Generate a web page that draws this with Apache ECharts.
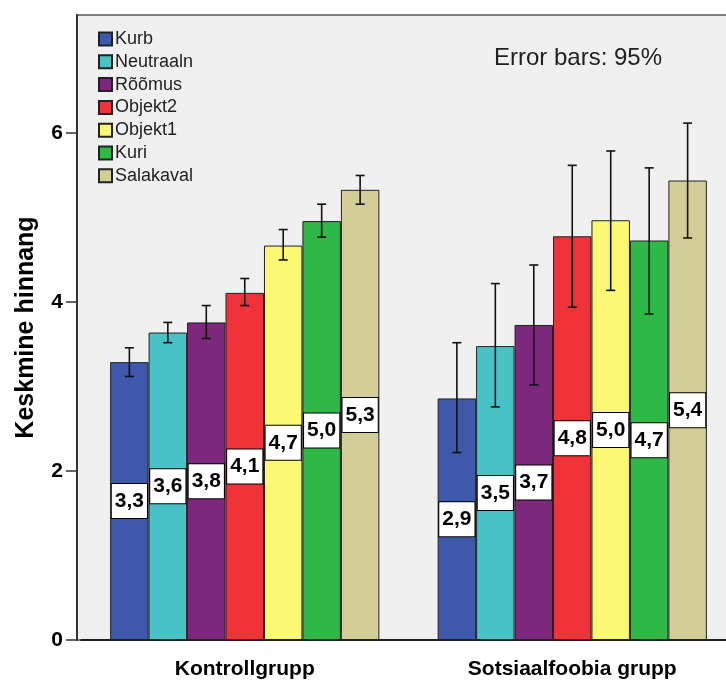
<!DOCTYPE html>
<html>
<head>
<meta charset="utf-8">
<script src="https://cdn.jsdelivr.net/npm/echarts@6/dist/echarts.min.js"></script>
<style>html,body{margin:0;padding:0;background:#fff;}#c{width:726px;height:680px;}</style>
</head>
<body>
<div id="c"></div>
<script>
// ---- data ----
const categories = ['Kontrollgrupp', 'Sotsiaalfoobia grupp'];
const seriesNames = ['Kurb', 'Neutraaln', 'Rõõmus', 'Objekt2', 'Objekt1', 'Kuri', 'Salakaval'];
const kurb      = [3.29, 2.86];
const neutraaln = [3.64, 3.48];
const roomus    = [3.76, 3.73];
const objekt2   = [4.11, 4.78];
const objekt1   = [4.67, 4.97];
const kuri      = [4.96, 4.73];
const salakaval = [5.33, 5.44];
const kurbCI      = [[3.12, 3.46], [2.22, 3.52]];
const neutraalnCI = [[3.52, 3.76], [2.76, 4.22]];
const roomusCI    = [[3.57, 3.96], [3.02, 4.44]];
const objekt2CI   = [[3.96, 4.28], [3.94, 5.62]];
const objekt1CI   = [[4.50, 4.86], [4.14, 5.79]];
const kuriCI      = [[4.77, 5.16], [3.86, 5.59]];
const salakavalCI = [[5.16, 5.50], [4.76, 6.12]];
const yTicks = [0, 2, 4, 6];
const noteText = 'Error bars: 95%';

// ---- build ----
const values = [kurb, neutraaln, roomus, objekt2, objekt1, kuri, salakaval];
const cis = [kurbCI, neutraalnCI, roomusCI, objekt2CI, objekt1CI, kuriCI, salakavalCI];
const colors = ['#3E58AC', '#48C2C5', '#7C287D', '#EF3338', '#FBF873', '#2EB848', '#D3CE97'];
const FONT = '"Liberation Sans", Arial, sans-serif';
const GAP = 0.178;
const N = seriesNames.length;

const barSeries = seriesNames.map((name, i) => ({
  name: name,
  type: 'bar',
  data: values[i],
  barGap: '0%',
  barCategoryGap: (GAP * 100) + '%',
  itemStyle: { color: colors[i], borderColor: '#222', borderWidth: 1 },
  label: {
    show: true,
    position: 'inside',
    formatter: p => p.value.toFixed(1).replace('.', ','),
    backgroundColor: '#fff',
    borderColor: '#000',
    borderWidth: 1,
    padding: [7, 3, 6, 3],
    fontSize: 21,
    fontWeight: 'bold',
    color: '#000',
    fontFamily: FONT
  },
  z: 2
}));

const errData = [];
cis.forEach((arr, s) => arr.forEach((ci, c) => errData.push([c, s, ci[0], ci[1]])));

const errSeries = {
  type: 'custom',
  name: 'err',
  data: errData,
  encode: { x: 0, y: [2, 3] },
  z: 5,
  renderItem: function (params, api) {
    const c = api.value(0), s = api.value(1);
    const lo = api.coord([c, api.value(2)]);
    const hi = api.coord([c, api.value(3)]);
    const band = api.size([1, 0])[0];
    const bw = band * (1 - GAP) / N;
    const x = lo[0] + (s - (N - 1) / 2) * bw;
    const cap = 4.5;
    const st = { stroke: '#111', lineWidth: 1.6 };
    return {
      type: 'group',
      children: [
        { type: 'line', shape: { x1: x, y1: hi[1], x2: x, y2: lo[1] }, style: st },
        { type: 'line', shape: { x1: x - cap, y1: hi[1], x2: x + cap, y2: hi[1] }, style: st },
        { type: 'line', shape: { x1: x - cap, y1: lo[1], x2: x + cap, y2: lo[1] }, style: st }
      ]
    };
  }
};

const chart = echarts.init(document.getElementById('c'), null, { renderer: 'canvas' });
chart.setOption({
  animation: false,
  backgroundColor: '#fff',
  textStyle: { fontFamily: FONT },
  graphic: [{
    type: 'rect',
    z: -10,
    silent: true,
    shape: { x: 77, y: 15, width: 680, height: 625 },
    style: { fill: '#f0f0f0', stroke: '#555', lineWidth: 1.5 }
  }],
  title: {
    text: noteText,
    left: 489,
    top: 41,
    textStyle: { fontSize: 24, fontWeight: 'normal', color: '#222', fontFamily: FONT }
  },
  legend: {
    data: seriesNames,
    orient: 'vertical',
    left: 93,
    top: 25,
    itemWidth: 13,
    itemHeight: 13,
    itemGap: 4.8,
    selectedMode: false,
    icon: 'rect',
    textStyle: { fontSize: 18, color: '#222', fontFamily: FONT, padding: [0, 0, 0, -2] }
  },
  grid: { left: 81, top: 15, width: 655, height: 625, containLabel: false, outerBoundsMode: 'none' },
  xAxis: {
    type: 'category',
    data: categories,
    axisLine: { lineStyle: { color: '#000', width: 1.5 } },
    axisTick: { alignWithLabel: true, length: 10, lineStyle: { color: '#333', width: 1.5 } },
    axisLabel: { fontSize: 21, fontWeight: 'bold', color: '#000', margin: 19, fontFamily: FONT }
  },
  yAxis: {
    type: 'value',
    min: 0,
    max: 7.4,
    interval: 2,
    offset: 4,
    name: 'Keskmine hinnang',
    nameLocation: 'middle',
    nameGap: 38,
    nameTextStyle: { fontSize: 25, fontWeight: 'bold', color: '#000', fontFamily: FONT },
    splitLine: { show: false },
    axisLine: { show: true, lineStyle: { color: '#333', width: 2 } },
    axisTick: { show: true, length: 11, customValues: yTicks, lineStyle: { color: '#333', width: 1.5 } },
    axisLabel: {
      fontSize: 21, fontWeight: 'bold', color: '#000', margin: 14, fontFamily: FONT,
      customValues: yTicks,
      formatter: v => (yTicks.indexOf(v) >= 0 ? String(v) : '')
    }
  },
  series: barSeries.concat([errSeries])
});
</script>
</body>
</html>
